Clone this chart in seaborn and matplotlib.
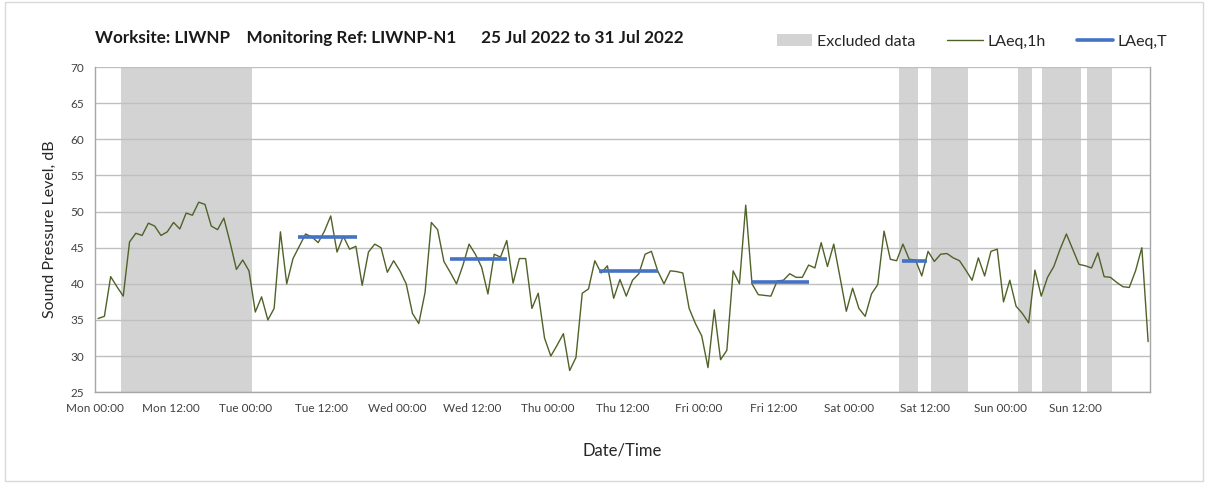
import numpy as np
import pandas as pd
import matplotlib
matplotlib.use("Agg")
import matplotlib.pyplot as plt
import matplotlib.dates as mdates
import seaborn as sns
from matplotlib.patches import Patch, Rectangle
from matplotlib.lines import Line2D

# Monitoring period start (hourly data points follow)
START = pd.Timestamp("2022-07-25 00:00")

# Hourly LAeq,1h values, dB
LAEQ_1H = [
    35.2, 35.5, 41.0, 39.6, 38.3, 45.8, 47.0, 46.7, 48.4, 48.0, 46.7, 47.2,
    48.5, 47.6, 49.8, 49.5, 51.3, 51.0, 48.0, 47.5, 49.1, 45.7, 42.0, 43.3,
    41.8, 36.1, 38.2, 35.0, 36.6, 47.2, 40.0, 43.5, 45.2, 46.9, 46.5, 45.7,
    47.3, 49.4, 44.4, 46.6, 44.8, 45.2, 39.8, 44.4, 45.5, 45.0, 41.6, 43.2,
    41.8, 40.0, 35.9, 34.5, 38.8, 48.5, 47.5, 43.1, 41.6, 40.0, 42.5, 45.5,
    44.1, 42.3, 38.6, 44.1, 43.7, 46.0, 40.1, 43.5, 43.5, 36.6, 38.7, 32.5,
    30.0, 31.5, 33.1, 28.0, 29.8, 38.7, 39.3, 43.2, 41.5, 42.5, 38.0, 40.6,
    38.3, 40.5, 41.4, 44.1, 44.5, 41.8, 40.0, 41.8, 41.7, 41.5, 36.6, 34.5,
    32.8, 28.4, 36.4, 29.5, 30.8, 41.8, 40.0, 50.9, 40.0, 38.5, 38.4, 38.3,
    40.4, 40.5, 41.4, 40.9, 40.9, 42.6, 42.2, 45.7, 42.4, 45.5, 40.9, 36.2,
    39.4, 36.6, 35.5, 38.6, 39.9, 47.3, 43.4, 43.2, 45.5, 43.4, 43.3, 41.1,
    44.5, 43.1, 44.1, 44.2, 43.6, 43.2, 41.9, 40.5, 43.6, 41.1, 44.5, 44.8,
    37.5, 40.5, 36.9, 35.9, 34.6, 41.9, 38.3, 40.9, 42.4, 44.8, 46.9, 44.8,
    42.7, 42.5, 42.2, 44.3, 41.0, 40.9, 40.2, 39.6, 39.5, 41.8, 45.0, 32.0,
]

# Excluded periods, hours from start
EXCLUDED_START_H = [4.1, 127.9, 133.0, 146.8, 150.7, 157.7]
EXCLUDED_END_H = [25.0, 130.9, 138.9, 149.0, 156.8, 161.8]

# LAeq,T daytime periods, hours from start, and levels in dB
LAEQ_T_START_H = [32.3, 56.4, 80.2, 104.4, 128.3]
LAEQ_T_END_H = [41.7, 65.6, 89.5, 113.5, 132.4]
LAEQ_T = [46.5, 43.4, 41.8, 40.3, 43.1]

GREEN = "#4f6228"
BLUE = "#4472c4"
GREY = "#d3d3d3"


def hours(h):
    return START + pd.to_timedelta(h, unit="h")


def main() -> None:
    sns.set_style("white")
    plt.rcParams["font.family"] = ["Lato", "DejaVu Sans"]

    df = pd.DataFrame({
        "time": hours(np.arange(len(LAEQ_1H)) + 0.5),
        "laeq": LAEQ_1H,
    })

    fig = plt.figure(figsize=(12.08, 4.83), dpi=100)
    ax = fig.add_axes([0.0786, 0.188, 0.8734, 0.673])

    for s, e in zip(EXCLUDED_START_H, EXCLUDED_END_H):
        ax.axvspan(hours(s), hours(e), color=GREY, lw=0, zorder=0)

    sns.lineplot(data=df, x="time", y="laeq", ax=ax, color=GREEN, lw=1.0, zorder=3)

    for s, e, v in zip(LAEQ_T_START_H, LAEQ_T_END_H, LAEQ_T):
        ax.plot([hours(s), hours(e)], [v, v], color=BLUE, lw=2.6,
                solid_capstyle="butt", zorder=4)

    ax.set_xlim(hours(0), hours(167.8))
    ax.set_ylim(25, 70)
    ax.set_yticks(np.arange(25, 71, 5))
    ax.yaxis.grid(True, color="#bfbfbf", lw=1.0, zorder=1)

    ax.xaxis.set_major_locator(mdates.HourLocator(byhour=[0, 12]))
    ax.xaxis.set_major_formatter(mdates.DateFormatter("%a %H:%M"))
    ax.xaxis.set_minor_locator(mdates.DayLocator())
    ax.xaxis.grid(True, which="minor", color="#e0e0e0", lw=1.0, zorder=1)
    ax.xaxis.grid(False, which="major")
    ax.tick_params(axis="x", which="major", direction="out", length=4,
                   color="#a6a6a6", labelsize=8.5, labelcolor="#404040", pad=4)
    ax.tick_params(axis="x", which="minor", length=0)
    ax.tick_params(axis="y", direction="out", length=4, color="#a6a6a6",
                   labelsize=8.5, labelcolor="#404040")

    for side in ["left", "bottom", "right"]:
        ax.spines[side].set_color("#a6a6a6")
        ax.spines[side].set_linewidth(1.0)
    ax.spines["top"].set_visible(False)

    ax.set_xlabel("Date/Time", fontsize=12, color="#262626", labelpad=20)
    ax.set_ylabel("Sound Pressure Level, dB", fontsize=11.5, color="#262626",
                  labelpad=10)

    fig.text(0.0786, 0.922,
             "Worksite: LIWNP    Monitoring Ref: LIWNP-N1      25 Jul 2022 to 31 Jul 2022",
             fontsize=12.3, fontweight="bold", color="#1a1a1a", va="center")

    handles = [
        Patch(facecolor=GREY, edgecolor="none"),
        Line2D([], [], color=GREEN, lw=1.0),
        Line2D([], [], color=BLUE, lw=2.6),
    ]
    fig.legend(handles, ["Excluded data", "LAeq,1h", "LAeq,T"],
               loc="center right", bbox_to_anchor=(0.978, 0.914), ncol=3,
               frameon=False, fontsize=11.5, handlelength=2.2,
               handletextpad=0.3, columnspacing=2.0, labelcolor="#262626")

    fig.patches.append(Rectangle((0.004, 0.004), 0.992, 0.992,
                                 transform=fig.transFigure, fill=False,
                                 edgecolor="#d9d9d9", lw=1.0))

    fig.savefig("out.png", dpi=100)
    plt.close(fig)


if __name__ == "__main__":
    main()
